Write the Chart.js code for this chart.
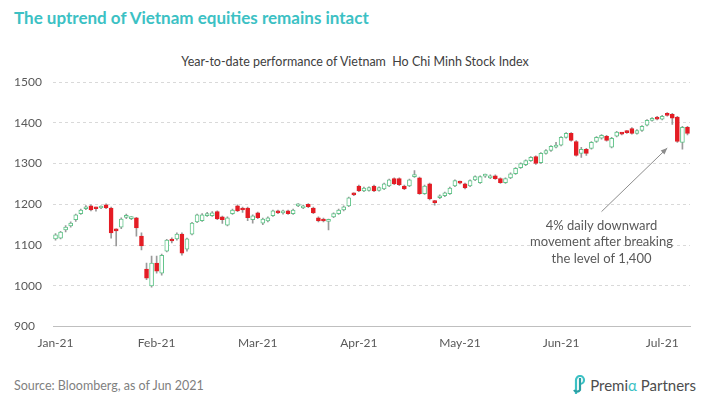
<!DOCTYPE html>
<html>
<head>
<meta charset="utf-8">
<script src="https://cdn.jsdelivr.net/npm/chart.js@4.4.1/dist/chart.umd.min.js"></script>
<style>
  body { margin: 0; background: #fff; font-family: Lato, "Open Sans", sans-serif; }
  #page { position: relative; width: 710px; height: 405px; overflow: hidden; }
  #title { position: absolute; left: 14px; top: 7px; font-size: 17px; font-weight: bold; color: #3cc1c4; }
  #subtitle { position: absolute; left: 0; top: 54px; width: 710px; text-align: center; font-size: 12.5px; color: #404040; }
  #box { position: absolute; left: 0; top: 70px; width: 710px; height: 294px; }
  #source { position: absolute; left: 14px; top: 378px; font-size: 12.5px; color: #7f7f7f; }
  #logo { position: absolute; right: 14px; top: 375px; font-size: 15px; color: #4d4d4d; display: flex; align-items: center; }
  #logo span { color: #3cc1c4; }
</style>
</head>
<body>
<div id="page">
  <div id="title">The uptrend of Vietnam equities remains intact</div>
  <div id="subtitle">Year-to-date performance of Vietnam&nbsp; Ho Chi Minh Stock Index</div>
  <div id="box"><canvas id="candles"></canvas></div>
  <div id="source">Source: Bloomberg, as of Jun 2021</div>
  <div id="logo">
    <svg width="14" height="20" viewBox="0 0 14 20" style="margin-right:3px">
      <path d="M3 19 V5 a4 4 0 0 1 8 0 a4 4 0 0 1 -4 4" fill="none" stroke="#3cc1c4" stroke-width="2.2"/>
      <path d="M7 3 V15 a3.5 3.5 0 0 1 -6 0" fill="none" stroke="#2a9ea3" stroke-width="2.2"/>
    </svg>
    Premi<span>α</span>&nbsp;Partners
  </div>
</div>
<script>
var dates = [
  '04-Jan-21','05-Jan-21','06-Jan-21','07-Jan-21','08-Jan-21','11-Jan-21','12-Jan-21','13-Jan-21','14-Jan-21','15-Jan-21',
  '18-Jan-21','19-Jan-21','20-Jan-21','21-Jan-21','22-Jan-21','25-Jan-21','26-Jan-21','27-Jan-21','28-Jan-21','29-Jan-21',
  '01-Feb-21','02-Feb-21','03-Feb-21','04-Feb-21','05-Feb-21','08-Feb-21','09-Feb-21','17-Feb-21','18-Feb-21','19-Feb-21',
  '22-Feb-21','23-Feb-21','24-Feb-21','25-Feb-21','26-Feb-21',
  '01-Mar-21','02-Mar-21','03-Mar-21','04-Mar-21','05-Mar-21','08-Mar-21','09-Mar-21','10-Mar-21','11-Mar-21','12-Mar-21',
  '15-Mar-21','16-Mar-21','17-Mar-21','18-Mar-21','19-Mar-21','22-Mar-21','23-Mar-21','24-Mar-21','25-Mar-21','26-Mar-21',
  '29-Mar-21','30-Mar-21','31-Mar-21',
  '01-Apr-21','02-Apr-21','05-Apr-21','06-Apr-21','07-Apr-21','08-Apr-21','09-Apr-21','12-Apr-21','13-Apr-21','14-Apr-21',
  '15-Apr-21','16-Apr-21','19-Apr-21','20-Apr-21','22-Apr-21','23-Apr-21','26-Apr-21','27-Apr-21','28-Apr-21','29-Apr-21',
  '04-May-21','05-May-21','06-May-21','07-May-21','10-May-21','11-May-21','12-May-21','13-May-21','14-May-21','17-May-21',
  '18-May-21','19-May-21','20-May-21','21-May-21','24-May-21','25-May-21','26-May-21','27-May-21','28-May-21','31-May-21',
  '01-Jun-21','02-Jun-21','03-Jun-21','04-Jun-21','07-Jun-21','08-Jun-21','09-Jun-21','10-Jun-21','11-Jun-21','14-Jun-21',
  '15-Jun-21','16-Jun-21','17-Jun-21','18-Jun-21','21-Jun-21','22-Jun-21','23-Jun-21','24-Jun-21','25-Jun-21','28-Jun-21',
  '29-Jun-21','30-Jun-21',
  '01-Jul-21','02-Jul-21','05-Jul-21','06-Jul-21','07-Jul-21','08-Jul-21'
];

var open = [
  1115,1117,1137,1147,1162,1177,1189,1196,1191,1191,
  1199,1191,1138,1144,1168,1165,1167,1122,1041,1000,
  1056,1031,1085,1113,1115,1127,1090,1127,1157,1160,
  1172,1172,1182,1169,1149,1177,1196,1190,1191,1162,
  1179,1154,1159,1172,1184,1179,1184,1177,1196,1191,
  1200,1191,1167,1164,1158,1169,1177,1186,1196,1226,
  1245,1233,1234,1245,1234,1238,1245,1263,1263,1245,
  1245,1268,1265,1226,1250,1208,1216,1221,1226,1245,
  1255,1250,1245,1260,1253,1269,1265,1270,1263,1253,
  1265,1275,1290,1297,1307,1317,1302,1325,1332,1340,
  1345,1364,1374,1354,1325,1335,1337,1354,1362,1367,
  1340,1367,1374,1379,1386,1374,1381,1394,1406,1414,
  1409,1423,1421,1414,1352,1389
];
var high = [
  1128,1134,1148,1157,1176,1188,1197,1199,1193,1196,
  1201,1193,1140,1167,1176,1170,1168,1130,1056,1073,
  1073,1078,1114,1118,1130,1130,1117,1156,1176,1177,
  1180,1182,1184,1171,1169,1188,1199,1193,1193,1174,
  1181,1166,1169,1186,1186,1186,1186,1188,1202,1198,
  1202,1193,1169,1166,1164,1179,1188,1196,1218,1228,
  1247,1242,1243,1247,1243,1252,1262,1265,1265,1247,
  1262,1283,1267,1247,1252,1210,1223,1230,1242,1260,
  1257,1252,1260,1270,1270,1274,1272,1272,1265,1265,
  1277,1290,1302,1309,1317,1319,1327,1334,1344,1352,
  1366,1376,1376,1356,1340,1337,1354,1366,1371,1369,
  1364,1379,1376,1381,1388,1383,1393,1408,1413,1416,
  1418,1425,1423,1416,1391,1391
];
var low = [
  1112,1115,1132,1144,1158,1175,1187,1184,1183,1189,
  1189,1117,1098,1140,1165,1162,1122,1088,1015,997,
  1031,1026,1083,1105,1112,1075,1085,1125,1155,1158,
  1170,1170,1162,1153,1147,1175,1182,1180,1160,1154,
  1165,1150,1157,1170,1177,1176,1175,1175,1194,1189,
  1192,1177,1157,1157,1137,1167,1175,1184,1194,1221,
  1231,1231,1232,1231,1232,1236,1243,1248,1246,1236,
  1243,1266,1224,1224,1211,1198,1214,1219,1224,1243,
  1250,1238,1243,1258,1251,1266,1263,1261,1251,1251,
  1263,1273,1288,1295,1305,1298,1300,1323,1330,1338,
  1343,1362,1355,1318,1315,1320,1335,1352,1360,1355,
  1338,1365,1370,1374,1372,1372,1379,1392,1404,1407,
  1407,1416,1396,1352,1335,1370
];
var close = [
  1125,1132,1144,1154,1174,1186,1194,1186,1189,1194,
  1191,1130,1135,1164,1172,1168,1142,1098,1019,1056,
  1036,1075,1112,1110,1127,1080,1115,1154,1174,1174,
  1177,1179,1164,1162,1167,1186,1184,1186,1167,1172,
  1167,1164,1167,1184,1179,1184,1177,1186,1200,1196,
  1194,1179,1159,1159,1161,1177,1186,1194,1216,1223,
  1233,1240,1241,1233,1241,1250,1260,1250,1248,1238,
  1260,1271,1226,1245,1213,1204,1221,1228,1240,1258,
  1252,1240,1258,1268,1268,1271,1270,1263,1253,1263,
  1275,1288,1300,1307,1315,1300,1325,1332,1342,1345,
  1364,1374,1357,1320,1335,1325,1352,1364,1369,1357,
  1362,1377,1372,1376,1374,1381,1391,1406,1411,1409,
  1416,1418,1411,1354,1389,1374
];

var yTicks = [900, 1000, 1100, 1200, 1300, 1400, 1500];
var noteLines = ['4% daily downward', 'movement after breaking', 'the level of 1,400'];
var noteFrom = [108, 1182];
var noteTo = [121, 1338];
var noteText = [108, 1148];

var upColor = 'rgb(98,196,138)';
var downColor = 'rgb(228,28,36)';
var wickColor = '#9a9a9a';

function isUp(i) {
  return close[i] >= open[i];
}

var noteLabel = {
  id: 'noteLabel',
  afterDatasetsDraw: function (chart) {
    var ctx = chart.ctx;
    var xs = chart.scales.x;
    var ys = chart.scales.y;
    var x0 = xs.getPixelForValue(noteFrom[0]);
    var y0 = ys.getPixelForValue(noteFrom[1]);
    var x1 = xs.getPixelForValue(noteTo[0]);
    var y1 = ys.getPixelForValue(noteTo[1]);
    ctx.save();
    ctx.strokeStyle = '#8c8c8c';
    ctx.fillStyle = '#8c8c8c';
    ctx.lineWidth = 1;
    ctx.beginPath();
    ctx.moveTo(x0, y0);
    ctx.lineTo(x1, y1);
    ctx.stroke();
    var a = Math.atan2(y1 - y0, x1 - x0);
    ctx.beginPath();
    ctx.moveTo(x1, y1);
    ctx.lineTo(x1 - 7 * Math.cos(a - 0.4), y1 - 7 * Math.sin(a - 0.4));
    ctx.lineTo(x1 - 7 * Math.cos(a + 0.4), y1 - 7 * Math.sin(a + 0.4));
    ctx.closePath();
    ctx.fill();

    ctx.fillStyle = '#595959';
    ctx.font = '13px Lato, sans-serif';
    ctx.textAlign = 'center';
    ctx.textBaseline = 'middle';
    var tx = xs.getPixelForValue(noteText[0]);
    var ty = ys.getPixelForValue(noteText[1]);
    noteLines.forEach(function (line, k) {
      ctx.fillText(line, tx, ty + k * 16.5);
    });
    ctx.restore();
  }
};

function drawChart() {
  var wicks = dates.map(function (d, i) { return [low[i], high[i]]; });
  var bodies = dates.map(function (d, i) { return [Math.min(open[i], close[i]), Math.max(open[i], close[i])]; });

  var config = {
    type: 'bar',
    data: {
      labels: dates,
      datasets: [{
        label: 'High-Low',
        data: wicks,
        backgroundColor: wickColor,
        barThickness: 1,
        grouped: false,
        order: 2
      }, {
        label: 'Open-Close',
        data: bodies,
        backgroundColor: dates.map(function (d, i) { return isUp(i) ? '#ffffff' : downColor; }),
        borderColor: dates.map(function (d, i) { return isUp(i) ? upColor : downColor; }),
        borderWidth: 1,
        borderSkipped: false,
        barThickness: 4,
        minBarLength: 2,
        grouped: false,
        order: 1
      }]
    },
    options: {
      responsive: true,
      maintainAspectRatio: false,
      animation: false,
      layout: { padding: { left: 14, right: 20, top: 12, bottom: 5 } },
      plugins: {
        legend: { display: false },
        tooltip: { enabled: false }
      },
      scales: {
        x: {
          type: 'category',
          offset: true,
          grid: { display: true, drawOnChartArea: false, drawTicks: false, color: '#d9d9d9' },
          border: { display: true, color: '#bfbfbf' },
          ticks: {
            autoSkip: false,
            maxRotation: 0,
            padding: 9,
            color: '#595959',
            font: { family: 'Lato', size: 12 },
            callback: function (v, i) {
              return i % 20 === 0 ? dates[i].slice(3) : null;
            }
          }
        },
        y: {
          min: yTicks[0],
          max: yTicks[yTicks.length - 1],
          afterBuildTicks: function (scale) {
            scale.ticks = yTicks.map(function (v) { return { value: v }; });
          },
          afterFit: function (scale) { scale.width = 39; },
          grid: { color: '#d9d9d9', drawTicks: false },
          border: { display: false, dash: [3, 3] },
          ticks: {
            crossAlign: 'far',
            padding: 0,
            color: '#595959',
            font: { family: 'Lato', size: 12 },
            callback: function (v) { return String(v); }
          }
        }
      }
    },
    plugins: [noteLabel]
  };

  var candleChart = new Chart(document.getElementById('candles'), config);
}

drawChart();
</script>
</body>
</html>
